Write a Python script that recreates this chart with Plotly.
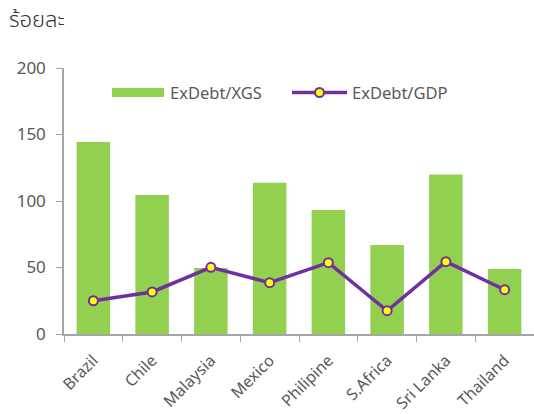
import plotly.graph_objects as go

categories = ["Brazil", "Chile", "Malaysia", "Mexico", "Philipine", "S.Africa", "Sri Lanka", "Thailand"]
exdebt_xgs = [144.4, 104.5, 49.6, 113.8, 93.2, 66.9, 120.0, 48.9]
exdebt_gdp = [25.0, 31.6, 50.1, 38.6, 53.6, 17.5, 54.4, 33.3]
y_ticks = [0, 50, 100, 150, 200]

GREEN = "#92D050"
PURPLE = "#7030A0"
YELLOW = "#FFFF00"
TEXT = "#595959"
AXIS = "#A6A6A6"
FONT = "Noto Sans, Open Sans, sans-serif"

fig = go.Figure()
fig.add_trace(go.Bar(x=categories, y=exdebt_xgs, name="ExDebt/XGS",
                     marker=dict(color=GREEN, line=dict(width=0)), width=0.57))
fig.add_trace(go.Scatter(x=categories, y=exdebt_gdp, name="ExDebt/GDP", mode="lines+markers",
                         line=dict(color=PURPLE, width=3.5),
                         marker=dict(color=YELLOW, size=9, line=dict(color=PURPLE, width=2))))

# manual legend
L, W, T, H = 64, 470, 68, 266
px = lambda v: (v - L) / W
py = lambda v: (T + H - v) / H
shapes = [
    dict(type="rect", xref="paper", yref="paper", x0=px(112), x1=px(164), y0=py(97), y1=py(88),
         fillcolor=GREEN, line=dict(width=0)),
    dict(type="line", xref="paper", yref="paper", x0=px(292), x1=px(347), y0=py(92.5), y1=py(92.5),
         line=dict(color=PURPLE, width=3.5)),
    dict(type="circle", xref="paper", yref="paper", xsizemode="pixel", ysizemode="pixel",
         xanchor=px(319.5), yanchor=py(92.5), x0=-4.5, x1=4.5, y0=-4.5, y1=4.5,
         fillcolor=YELLOW, line=dict(color=PURPLE, width=2)),
]
annotations = [
    dict(text="ExDebt/XGS", xref="paper", yref="paper", x=px(168), y=py(92.5), xanchor="left",
         yanchor="middle", showarrow=False, font=dict(size=16.5, color=TEXT, family=FONT)),
    dict(text="ExDebt/GDP", xref="paper", yref="paper", x=px(350), y=py(92.5), xanchor="left",
         yanchor="middle", showarrow=False, font=dict(size=16.5, color=TEXT, family=FONT)),
    dict(text="ร้อยละ", xref="paper", yref="paper", x=px(7), y=py(21), xanchor="left",
         yanchor="middle", showarrow=False,
         font=dict(size=22, color="#333333", weight=300,
                   family="Noto Sans Thai, Noto Sans Thai UI, Loma, Garuda, Noto Sans, sans-serif")),
]

fig.update_layout(
    width=534, height=414,
    margin=dict(l=L, r=0, t=T, b=414 - T - H, autoexpand=False),
    plot_bgcolor="white", paper_bgcolor="white",
    showlegend=False,
    shapes=shapes, annotations=annotations,
    font=dict(family=FONT, color=TEXT, size=15),
    xaxis=dict(showline=True, linecolor=AXIS, linewidth=1.5, ticks="outside", tickson="boundaries",
               ticklen=6, tickcolor=AXIS, tickangle=-45, showgrid=False, ticklabelstandoff=9,
               automargin=False, tickfont=dict(size=16, color=TEXT)),
    yaxis=dict(range=[0, 200], tickvals=y_ticks, showline=True, linecolor=AXIS, linewidth=1.5,
               ticks="outside", ticklen=6, tickcolor=AXIS, showgrid=False, zeroline=False,
               automargin=False, ticklabelstandoff=7, tickfont=dict(size=17, color=TEXT)),
)

fig.write_html("out.html")
